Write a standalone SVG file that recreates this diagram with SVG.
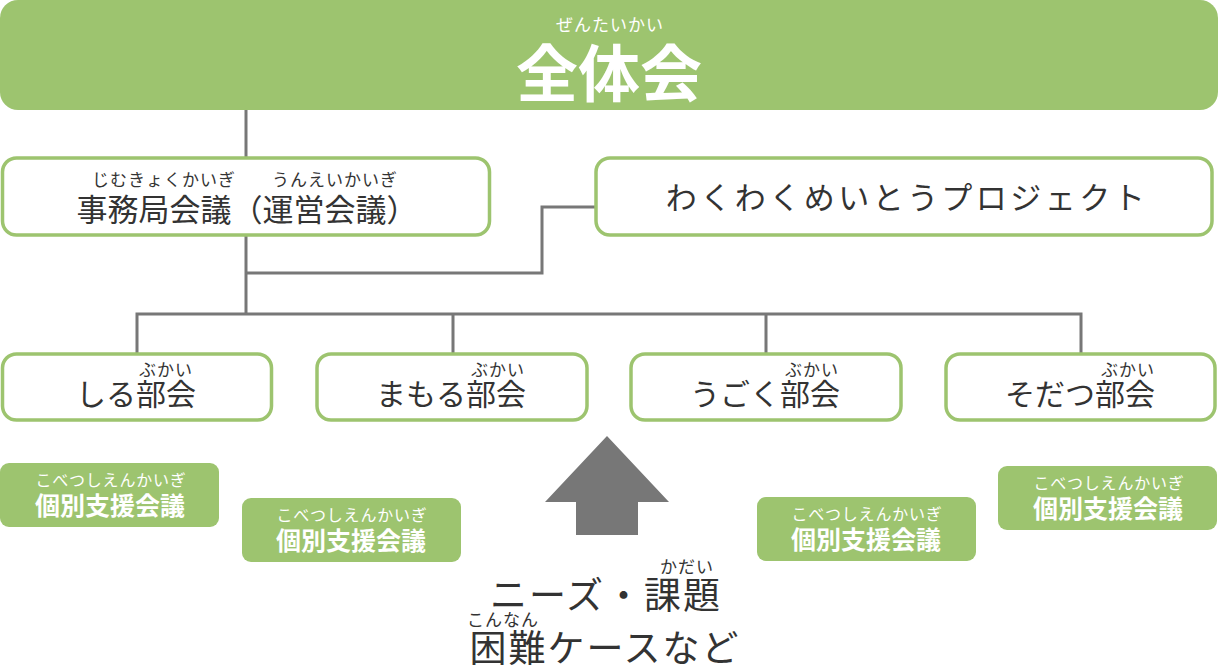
<svg xmlns="http://www.w3.org/2000/svg" width="1218" height="667" viewBox="0 0 1218 667">
<style>
text{font-family:"Noto Sans CJK JP","Noto Sans",sans-serif;}
.ob{fill:#fff;stroke:#9dc46f;stroke-width:3.5;}
.gb{fill:#9dc46f;}
.t{fill:#333;text-anchor:middle;}
.w{fill:#fff;text-anchor:middle;}
.ln{fill:none;stroke:#777;stroke-width:3;}
.r{font-size:16px;letter-spacing:0.8px;}
.k{font-size:25px;font-weight:bold;}
.b{font-size:17px;letter-spacing:1px;}
</style>
<g id="connectors">
<path class="ln" d="M246 110V313"/>
<path class="ln" d="M246 273H542V207H596"/>
<path class="ln" d="M137 355V314H1081V355M453 314V355M766 314V355"/>
</g>
<g id="zentaikai">
<rect class="gb" x="0" y="0" width="1218" height="110" rx="18"/>
<text class="w" x="610" y="31" font-size="17" letter-spacing="1">ぜんたいかい</text>
<text class="w" x="609" y="97" font-size="62" font-weight="bold">全体会</text>
</g>
<g id="jimukyoku">
<rect class="ob" x="2.5" y="158" width="487" height="77" rx="14"/>
<text class="t b" x="164" y="186">じむきょくかいぎ</text>
<text class="t b" x="335" y="186">うんえいかいぎ</text>
<text class="t" x="247" y="221" font-size="31">事務局会議（運営会議）</text>
</g>
<g id="wakuwaku">
<rect class="ob" x="596" y="158" width="616" height="77" rx="14"/>
<text class="t" x="907" y="209" font-size="31" letter-spacing="3.5">わくわくめいとうプロジェクト</text>
</g>
<g id="shiru">
<rect class="ob" x="2.5" y="354" width="269" height="66" rx="14"/>
<text class="t b" x="166" y="376">ぶかい</text>
<text class="t" x="136" y="405" font-size="30">しる部会</text>
</g>
<g id="mamoru">
<rect class="ob" x="317" y="354" width="270" height="66" rx="14"/>
<text class="t b" x="498" y="376">ぶかい</text>
<text class="t" x="451" y="405" font-size="30">まもる部会</text>
</g>
<g id="ugoku">
<rect class="ob" x="631" y="354" width="270" height="66" rx="14"/>
<text class="t b" x="812" y="376">ぶかい</text>
<text class="t" x="765" y="405" font-size="30">うごく部会</text>
</g>
<g id="sodatsu">
<rect class="ob" x="946" y="354" width="269" height="66" rx="14"/>
<text class="t b" x="1128" y="376">ぶかい</text>
<text class="t" x="1080" y="405" font-size="30">そだつ部会</text>
</g>
<g id="kobetsu1">
<rect class="gb" x="0" y="463" width="219" height="64" rx="9"/>
<text class="w r" x="111" y="486">こべつしえんかいぎ</text>
<text class="w k" x="110" y="515">個別支援会議</text>
</g>
<g id="kobetsu2">
<rect class="gb" x="242" y="498" width="219" height="64" rx="9"/>
<text class="w r" x="352" y="521">こべつしえんかいぎ</text>
<text class="w k" x="351" y="550">個別支援会議</text>
</g>
<g id="kobetsu3">
<rect class="gb" x="757" y="497" width="219" height="64" rx="9"/>
<text class="w r" x="867" y="520">こべつしえんかいぎ</text>
<text class="w k" x="866" y="549">個別支援会議</text>
</g>
<g id="kobetsu4">
<rect class="gb" x="998" y="466" width="219" height="64" rx="9"/>
<text class="w r" x="1109" y="489">こべつしえんかいぎ</text>
<text class="w k" x="1108" y="518">個別支援会議</text>
</g>
<g id="needs">
<polygon points="607,436 545,502 576,502 576,535 638,535 638,502 669,502" fill="#777"/>
<text class="t b" x="687" y="573">かだい</text>
<text class="t" x="606" y="609" font-size="37" letter-spacing="2">ニーズ・課題</text>
<text class="t b" x="503" y="626">こんなん</text>
<text class="t" x="605" y="662" font-size="37" letter-spacing="2">困難ケースなど</text>
</g>
</svg>
